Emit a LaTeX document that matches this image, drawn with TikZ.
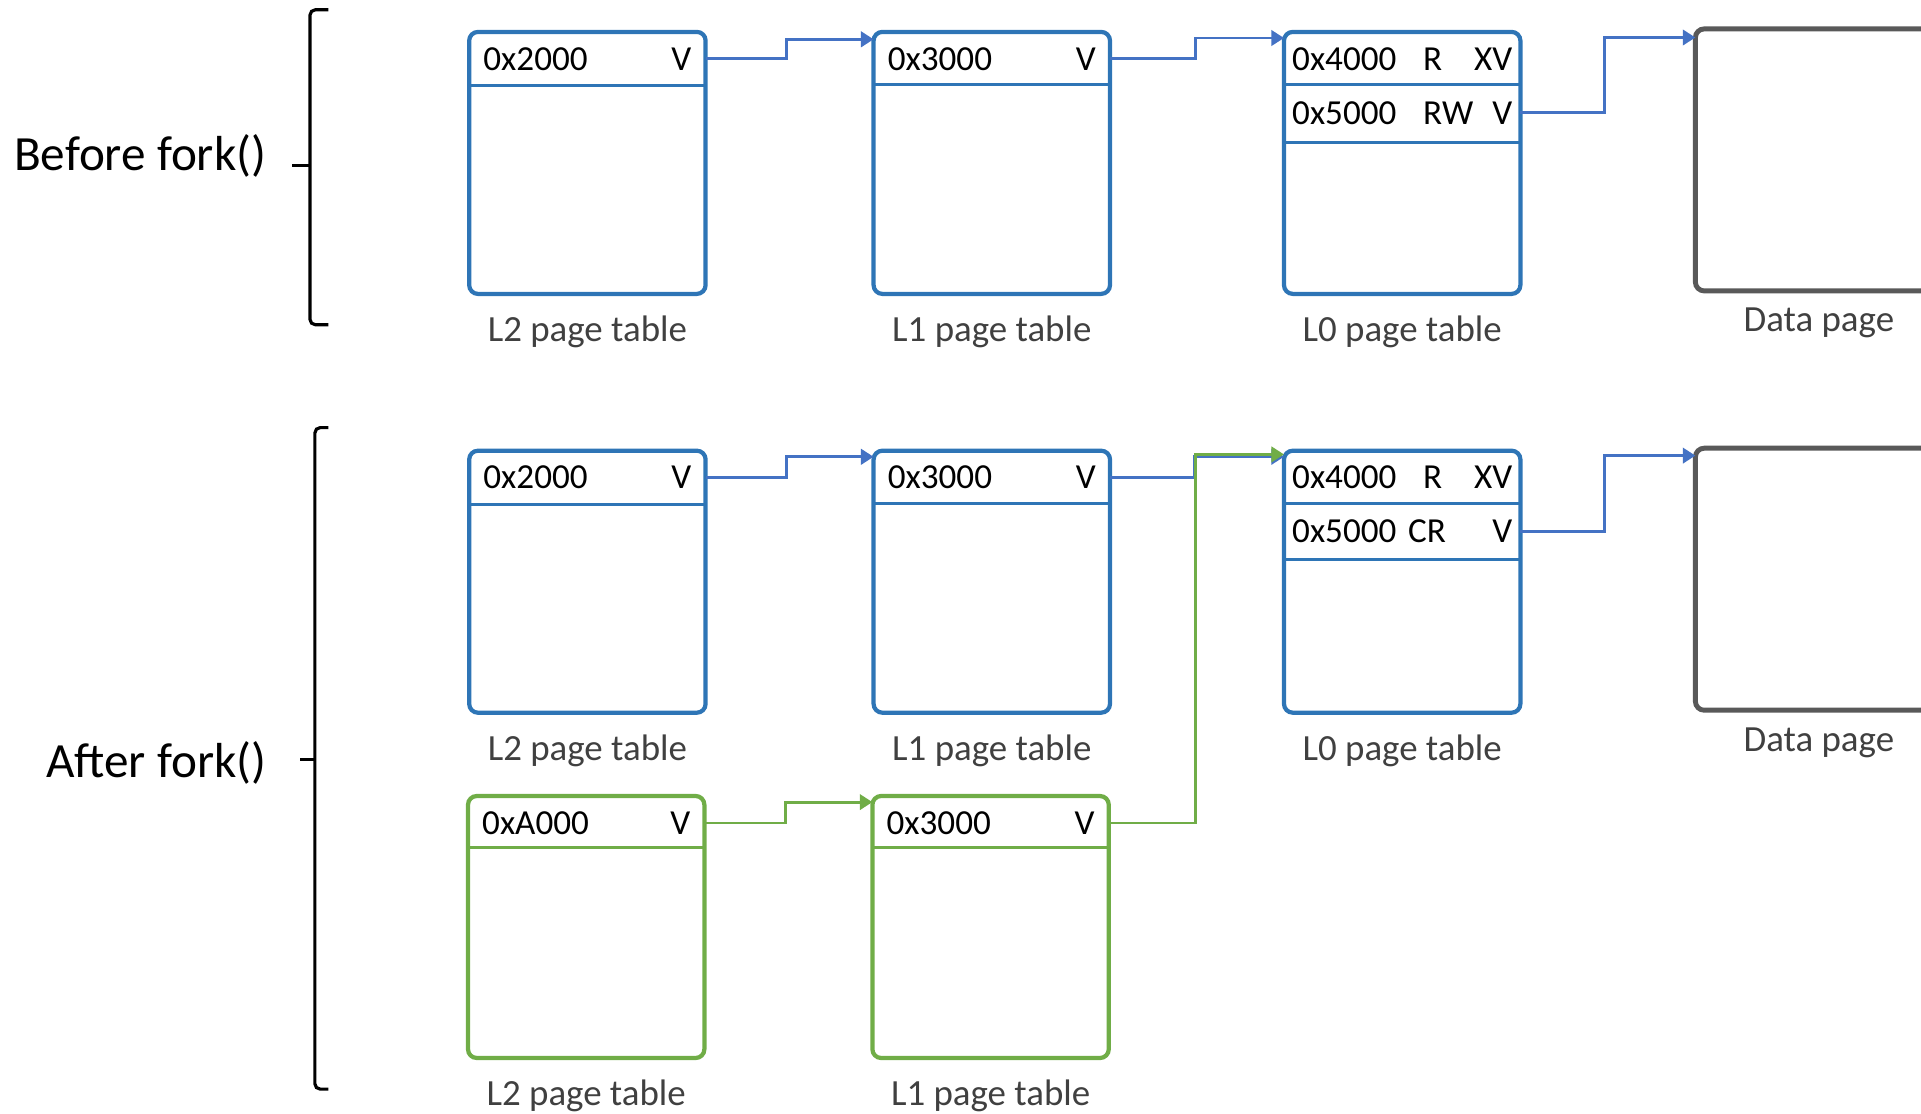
\documentclass[tikz,border=0pt]{standalone}
\usepackage{fontspec}
\setmainfont{Carlito}
\usepackage{tikz}
\usetikzlibrary{arrows.meta, positioning}
\definecolor{ptblue}{RGB}{46,117,182}
\definecolor{ptgreen}{RGB}{112,173,71}
\definecolor{linkblue}{RGB}{68,114,196}
\definecolor{pagegray}{RGB}{89,89,89}
\definecolor{capgray}{RGB}{64,64,64}
\tikzstyle{pgtable}=[rectangle, draw=ptblue, line width=1.2pt, rounded corners=2.5pt, minimum width=2.364cm, minimum height=2.62cm, inner sep=0pt, outer sep=0pt]
\tikzstyle{childtable}=[pgtable, draw=ptgreen]
\tikzstyle{datapage}=[pgtable, draw=pagegray, line width=1.4pt, minimum width=2.47cm]
\tikzstyle{rowline}=[draw=ptblue, line width=0.9pt]
\tikzstyle{childrow}=[draw=ptgreen, line width=0.9pt]
\tikzstyle{pte}=[inner sep=0pt, text width=2.08cm, font=\fontsize{10}{12}\selectfont]
\tikzstyle{tblcap}=[text=capgray, font=\fontsize{10.5}{12}\selectfont, inner sep=1pt]
\tikzstyle{forktitle}=[anchor=east, inner sep=0pt, font=\fontsize{14}{17}\selectfont]
\tikzstyle{bracket}=[line width=0.9pt, rounded corners=1.5pt]
\tikzstyle{ptlink}=[draw=linkblue, line width=0.8pt, -{Triangle[length=3.6pt,width=4.4pt]}]
\tikzstyle{childlink}=[ptlink, draw=ptgreen]

\begin{document}
\begin{tikzpicture}
    \useasboundingbox (0,0) rectangle (19.21,-11.14);
    \clip (0,0) rectangle (19.21,-11.14);

    % Before fork():
    \node[forktitle] (before) at (2.67,-1.556) {Before fork()};
    \draw[bracket] (3.283,-0.098) -- (3.1,-0.098) -- (3.1,-3.247) -- (3.283,-3.247);
    \draw[bracket] (3.1,-1.654) -- (2.916,-1.654);

    \node[pgtable] (l2a) at (5.874,-1.629) {};
    \node[pgtable] (l1a) [right=1.68cm of l2a] {};
    \node[pgtable] (l0a) [right=1.74cm of l1a] {};
    \node[datapage] (pagea) [right=1.75cm of l0a, yshift=0.03cm] {};

    \node[pte] (l2a1) at ([yshift=-0.27cm]l2a.north) {0x2000\hfill V};
    \draw[rowline] ([yshift=-0.539cm]l2a.north west) -- ([yshift=-0.539cm]l2a.north east);
    \node[pte] (l1a1) at ([yshift=-0.27cm]l1a.north) {0x3000\hfill V};
    \draw[rowline] ([yshift=-0.527cm]l1a.north west) -- ([yshift=-0.527cm]l1a.north east);
    \node[pte, text width=2.2cm] (l0a1) at ([yshift=-0.27cm]l0a.north) {\makebox[1.31cm][l]{0x4000}R\hfill XV};
    \node[pte, text width=2.2cm] (l0a2) at ([yshift=-0.809cm]l0a.north) {\makebox[1.31cm][l]{0x5000}RW\hfill V};
    \draw[rowline] ([yshift=-0.527cm]l0a.north west) -- ([yshift=-0.527cm]l0a.north east);
    \draw[rowline] ([yshift=-1.103cm]l0a.north west) -- ([yshift=-1.103cm]l0a.north east);

    \node[tblcap] (l2acap) [below=0.18cm of l2a] {L2 page table};
    \node[tblcap] (l1acap) [below=0.18cm of l1a] {L1 page table};
    \node[tblcap] (l0acap) [below=0.18cm of l0a] {L0 page table};
    \node[tblcap] (pageacap) [below=0.13cm of pagea] {Data page};

    \draw[ptlink] (l2a1.east -| l2a.east) -- ++(0.809,0) |- ([yshift=-0.074cm]l1a.north west);
    \draw[ptlink] (l1a1.east -| l1a.east) -- ++(0.858,0) |- ([yshift=-0.061cm]l0a.north west);
    \draw[ptlink] (l0a2.east -| l0a.east) -- ++(0.845,0) |- ([yshift=-0.086cm]pagea.north west);

    % After fork():
    \node[forktitle] (after) at (2.67,-7.632) {After fork()};
    \draw[bracket] (3.283,-4.276) -- (3.149,-4.276) -- (3.149,-10.891) -- (3.283,-10.891);
    \draw[bracket] (3.149,-7.596) -- (3.0,-7.596);

    \node[pgtable] (l2b) [below=1.568cm of l2a] {};
    \node[pgtable] (l1b) [right=1.68cm of l2b] {};
    \node[pgtable] (l0b) [right=1.74cm of l1b] {};
    \node[datapage] (pageb) [right=1.75cm of l0b, yshift=0.025cm] {};

    \node[pte] (l2b1) at ([yshift=-0.27cm]l2b.north) {0x2000\hfill V};
    \draw[rowline] ([yshift=-0.539cm]l2b.north west) -- ([yshift=-0.539cm]l2b.north east);
    \node[pte] (l1b1) at ([yshift=-0.27cm]l1b.north) {0x3000\hfill V};
    \draw[rowline] ([yshift=-0.527cm]l1b.north west) -- ([yshift=-0.527cm]l1b.north east);
    \node[pte, text width=2.2cm] (l0b1) at ([yshift=-0.27cm]l0b.north) {\makebox[1.31cm][l]{0x4000}R\hfill XV};
    \node[pte, text width=2.2cm] (l0b2) at ([yshift=-0.809cm]l0b.north) {0x5000 CR\hfill V};
    \draw[rowline] ([yshift=-0.527cm]l0b.north west) -- ([yshift=-0.527cm]l0b.north east);
    \draw[rowline] ([yshift=-1.09cm]l0b.north west) -- ([yshift=-1.09cm]l0b.north east);

    \node[tblcap] (l2bcap) [below=0.18cm of l2b] {L2 page table};
    \node[tblcap] (l1bcap) [below=0.18cm of l1b] {L1 page table};
    \node[tblcap] (l0bcap) [below=0.18cm of l0b] {L0 page table};
    \node[tblcap] (pagebcap) [below=0.13cm of pageb] {Data page};

    % Child tables:
    \node[childtable] (l2c) [below=0.833cm of l2b, xshift=-0.012cm] {};
    \node[childtable] (l1c) [right=1.68cm of l2c] {};

    \node[pte] (l2c1) at ([yshift=-0.27cm]l2c.north) {0xA000\hfill V};
    \draw[childrow] ([yshift=-0.515cm]l2c.north west) -- ([yshift=-0.515cm]l2c.north east);
    \node[pte] (l1c1) at ([yshift=-0.27cm]l1c.north) {0x3000\hfill V};
    \draw[childrow] ([yshift=-0.515cm]l1c.north west) -- ([yshift=-0.515cm]l1c.north east);

    \node[tblcap] (l2ccap) [below=0.18cm of l2c] {L2 page table};
    \node[tblcap] (l1ccap) [below=0.18cm of l1c] {L1 page table};

    \draw[ptlink] (l2b1.east -| l2b.east) -- ++(0.809,0) |- ([yshift=-0.061cm]l1b.north west);
    \draw[ptlink] (l1b1.east -| l1b.east) -- ++(0.845,0) |- ([yshift=-0.061cm]l0b.north west);
    \draw[ptlink] (l0b2.east -| l0b.east) -- ++(0.845,0) |- ([yshift=-0.074cm]pageb.north west);
    \draw[childlink] (l2c1.east -| l2c.east) -- ++(0.809,0) |- ([yshift=-0.061cm]l1c.north west);
    \draw[childlink] (l1c1.east -| l1c.east) -- ++(0.870,0) |- ([yshift=-0.037cm]l0b.north west);
\end{tikzpicture}
\end{document}
